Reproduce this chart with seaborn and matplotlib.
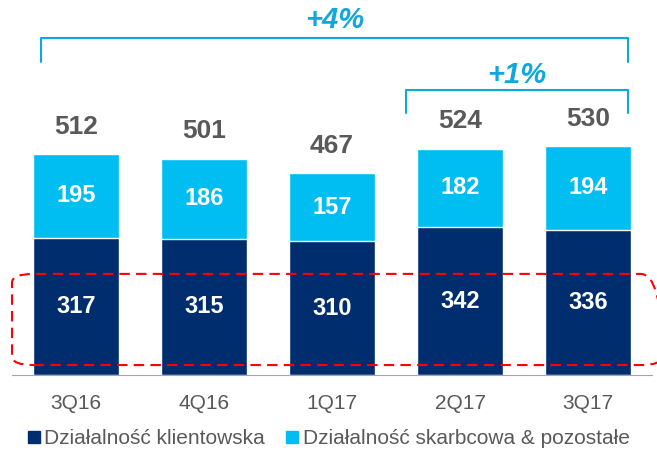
import pandas as pd
import seaborn as sns
import matplotlib.pyplot as plt
from matplotlib.patches import FancyBboxPatch
from matplotlib.lines import Line2D

quarters = ['3Q16', '4Q16', '1Q17', '2Q17', '3Q17']
klientowska = [317, 315, 310, 342, 336]
skarbcowa = [195, 186, 157, 182, 194]
totals = [512, 501, 467, 524, 530]

navy = '#002D6E'
cyan = '#00BDF2'
bracket = '#10A8DC'
grey = '#595959'

df = pd.DataFrame({'q': quarters, 'k': klientowska, 's': skarbcowa})
df['tot'] = df['k'] + df['s']

sns.set_style('white')
plt.rcParams['font.family'] = ['Liberation Sans', 'DejaVu Sans']

fig = plt.figure(figsize=(6.57, 4.53), dpi=100)
ax = fig.add_axes([12 / 657, 78 / 453, 640 / 657, 375 / 453])

sns.barplot(data=df, x='q', y='tot', color=cyan, width=0.67, saturation=1, ax=ax)
sns.barplot(data=df, x='q', y='k', color=navy, width=0.67, saturation=1, ax=ax)

ax.set_xlim(-0.5, 4.5)
ax.set_ylim(0, 868)
ax.set_xlabel('')
ax.set_ylabel('')
ax.set_yticks([])
for s in ['top', 'right', 'left']:
    ax.spines[s].set_visible(False)
ax.spines['bottom'].set_color('#A6A6A6')
ax.set_xticks(range(5))
ax.set_xticklabels(quarters, fontsize=15, color=grey)
ax.tick_params(axis='x', which='major', length=0, pad=14)
ax.set_xticks([i - 0.5 for i in range(6)], minor=True)
ax.tick_params(axis='x', which='minor', length=7, color='#A6A6A6', direction='out')

for i in range(5):
    ax.text(i, klientowska[i] / 2, str(klientowska[i]), ha='center', va='center',
            color='white', fontsize=17, fontweight='bold')
    ax.text(i, klientowska[i] + skarbcowa[i] / 2, str(skarbcowa[i]), ha='center', va='center',
            color='white', fontsize=17, fontweight='bold')
    ax.annotate(str(totals[i]), (i, totals[i]), xytext=(0, 11), textcoords='offset points',
                ha='center', va='bottom', color=grey, fontsize=19, fontweight='bold')

# brackets
def draw_bracket(x0, x1, y, drop, label, ty):
    ax.plot([x0, x0, x1, x1], [y - drop, y, y, y - drop], color=bracket, lw=1.5, clip_on=False)
    ax.text((x0 + x1) / 2, ty, label, ha='center', va='center', color=bracket,
            fontsize=21, fontweight='bold', fontstyle='italic')

draw_bracket(-0.27, 4.31, 780, 56, '+4%', 822)
draw_bracket(2.58, 4.31, 660, 54, '+1%', 694)

# red dashed box
box = FancyBboxPatch((-0.5, 23), 5.08, 211, boxstyle='round,pad=0,rounding_size=0.17',
                     mutation_aspect=120, fill=False, edgecolor='#FF0000', lw=1.5,
                     linestyle=(0, (5, 3)), clip_on=False, zorder=5)
ax.add_patch(box)

handles = [Line2D([], [], marker='s', color='none', markerfacecolor=navy, markeredgecolor=navy, markersize=8),
           Line2D([], [], marker='s', color='none', markerfacecolor=cyan, markeredgecolor=cyan, markersize=8)]
fig.legend(handles, ['Działalność klientowska', 'Działalność skarbcowa & pozostałe'],
           loc='lower center', bbox_to_anchor=(0.5, -0.03), ncol=2, frameon=False,
           fontsize=15, handlelength=0.6, handletextpad=0.2, columnspacing=1.0,
           labelcolor=grey)

fig.savefig('out.png', dpi=100)
